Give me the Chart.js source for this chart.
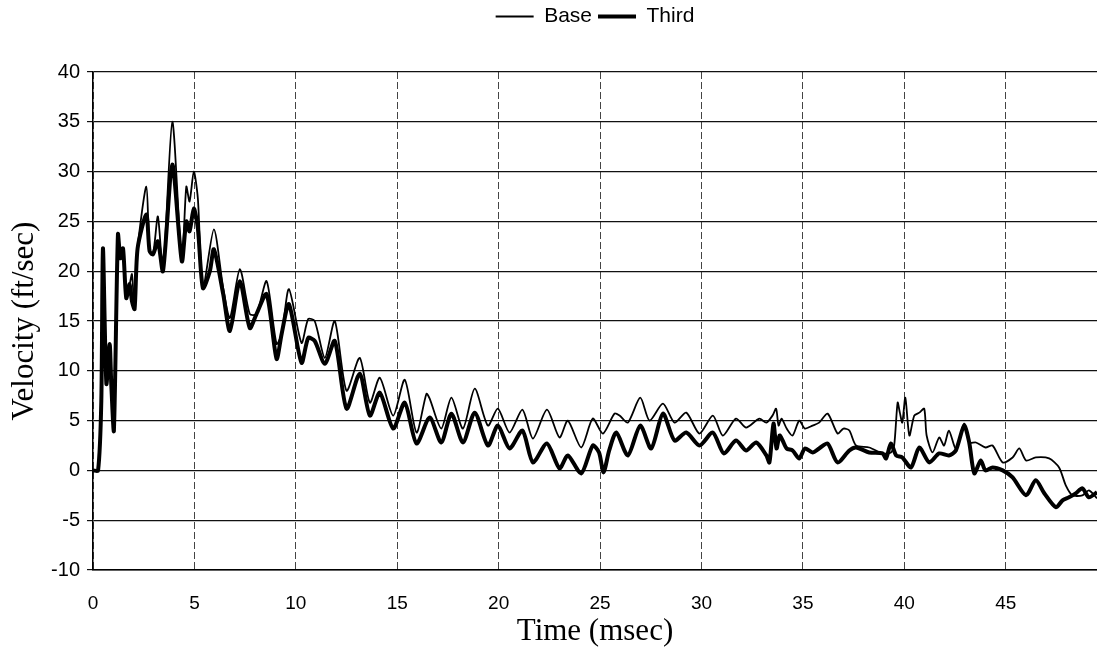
<!DOCTYPE html>
<html>
<head>
<meta charset="utf-8">
<script src="https://cdn.jsdelivr.net/npm/chart.js@4/dist/chart.umd.min.js"></script>
<style>
	body { margin:0; background:#fff; }
	#wrap { position:relative; width:1097px; height:652px; }
</style>
</head>
<body>
<div id="wrap"><canvas id="c"></canvas></div>
<script>
// values (time in msec, velocity in ft/sec)
const baseTime = [0, 0.25, 0.41, 0.49, 0.66, 0.82, 0.9, 1.03, 1.23, 1.35, 1.48, 1.64, 1.81, 1.92, 2.05, 2.2, 2.63, 2.79, 2.96, 3.2, 3.45, 3.91, 4.38, 4.6, 4.76, 4.97, 5.17, 5.42, 5.96, 6.42, 6.75, 7.24, 7.73, 8.06, 8.56, 9.05, 9.3, 9.66, 10.28, 10.61, 10.93, 11.43, 11.92, 12.5, 13.15, 13.65, 14.14, 14.8, 15.37, 15.95, 16.44, 16.6, 17.17, 17.67, 18.24, 18.82, 19.47, 19.96, 20.54, 21.17, 21.69, 22.38, 23.0, 23.41, 24.07, 24.64, 25.14, 25.71, 25.96, 26.37, 26.98, 27.44, 28.1, 28.67, 29.25, 29.9, 30.56, 31.05, 31.7, 32.2, 32.85, 33.2, 33.5, 33.68, 33.8, 33.95, 34.2, 34.49, 34.82, 35.1, 35.48, 35.8, 36.22, 36.71, 37.0, 37.29, 37.62, 38.27, 38.93, 39.34, 39.5, 39.67, 39.78, 39.9, 40.05, 40.25, 40.49, 40.74, 40.98, 41.1, 41.39, 41.72, 41.96, 42.2, 42.54, 42.95, 43.2, 43.53, 44.0, 44.35, 44.85, 45.34, 45.67, 46.0, 46.48, 47.14, 47.63, 47.96, 48.29, 48.78, 49.1, 49.5]
const baseVel = [0, 0, 7, 22.3, 8.7, 12.7, 8.7, 4, 23.7, 21.3, 22.3, 17.3, 18.7, 19.7, 16.2, 22.3, 28.5, 22, 21.7, 25.5, 20, 35, 21, 28.5, 27, 30, 27.3, 18.3, 24.2, 18.3, 15.3, 20.2, 15.7, 15.7, 19, 12.7, 13.7, 18.2, 12.8, 15.2, 15, 11.3, 15, 8, 11.3, 6.8, 9.3, 5.5, 9.1, 3.8, 7.7, 7.2, 4.2, 7.3, 4.2, 8.2, 4.5, 6.2, 3.8, 6.1, 3.2, 6.1, 3.3, 5, 2.3, 5.2, 3.7, 5.7, 5.5, 4.8, 7.3, 5, 6.7, 4.8, 5.8, 3.7, 5.5, 3.5, 5.2, 4.3, 5.2, 4.8, 5.5, 6.2, 4.5, 5.2, 4.2, 3.5, 5, 4.2, 4.5, 4.8, 5.7, 3.7, 4.2, 4, 2.5, 2.3, 1.7, 1.8, 2.5, 6.8, 5.8, 4.8, 7.3, 3.5, 5.5, 5.8, 6.2, 3.5, 1.8, 3.3, 2.5, 4, 2.2, 4.7, 2.8, 2.8, 2.3, 2.5, 0.8, 1.3, 2.2, 1, 1.3, 1.2, 0.3, -1.5, -2.5, -2.5, -2, -2.8]

const thirdTime = [0, 0.25, 0.41, 0.49, 0.66, 0.82, 0.9, 1.03, 1.23, 1.35, 1.48, 1.64, 1.81, 1.92, 2.05, 2.2, 2.63, 2.79, 2.96, 3.2, 3.45, 3.91, 4.38, 4.6, 4.76, 4.97, 5.17, 5.42, 5.76, 5.96, 6.42, 6.75, 7.24, 7.73, 8.06, 8.56, 9.05, 9.3, 9.66, 10.28, 10.61, 10.93, 11.43, 11.92, 12.5, 13.15, 13.65, 14.14, 14.8, 15.37, 15.95, 16.6, 17.17, 17.67, 18.24, 18.82, 19.47, 19.96, 20.54, 21.17, 21.69, 22.38, 23.0, 23.41, 24.07, 24.64, 24.95, 25.17, 25.45, 25.8, 26.37, 26.98, 27.52, 28.1, 28.67, 29.25, 29.9, 30.56, 31.1, 31.7, 32.2, 32.7, 33.2, 33.35, 33.55, 33.7, 33.85, 34.0, 34.2, 34.49, 34.82, 35.1, 35.48, 35.8, 36.22, 36.71, 37.29, 37.62, 38.27, 38.93, 39.1, 39.34, 39.6, 39.9, 40.33, 40.74, 41.23, 41.72, 42.2, 42.54, 42.95, 43.2, 43.45, 43.77, 44.0, 44.35, 44.85, 45.34, 46.0, 46.48, 46.9, 47.47, 47.8, 48.12, 48.45, 48.78, 49.1, 49.5]
const thirdVel = [0, 0, 7, 22.3, 8.7, 12.7, 8.7, 4, 23.7, 21.3, 22.3, 17.3, 18.7, 17, 16.2, 22.3, 25.7, 22, 21.7, 23, 20, 30.7, 21, 25, 24, 26.3, 24.3, 18.3, 20, 22.2, 17.7, 14, 19, 14.3, 15.7, 17.7, 11.2, 13.7, 16.7, 10.8, 13.3, 13, 10.7, 13, 6.2, 9.7, 5.5, 7.8, 4.2, 6.8, 2.7, 5.3, 2.8, 5.7, 2.8, 5.8, 2.5, 4.5, 2.2, 4, 0.8, 2.7, 0.2, 1.5, -0.3, 2.5, 1.8, -0.2, 2, 3.8, 1.5, 4.5, 2.2, 5.7, 3, 3.8, 2.5, 3.8, 1.7, 3, 2, 2.8, 1.5, 0.8, 4.7, 2.2, 3.5, 3, 2.2, 2, 1.2, 2.2, 1.8, 2.2, 2.7, 0.8, 2, 2.3, 1.8, 1.7, 1.2, 2.7, 1.5, 1.3, 0.3, 2.3, 0.8, 1.7, 1.5, 2, 4.5, 2.8, -0.3, 1, 0, 0.3, 0, -0.7, -2.5, -1, -2.3, -3.7, -3, -2.7, -2.3, -1.8, -2.7, -2.2]

const xTicks = [0, 5, 10, 15, 20, 25, 30, 35, 40, 45]
const seriesNames = ['Base', 'Third']

const pts = (t, v) => t.map((x, i) => ({x:x, y:v[i]}))

addEventListener('load', () => {

	const sans = "'Liberation Sans', Arial, sans-serif"
	const serif = "'Liberation Serif', 'Times New Roman', serif"

	// legend sits above a fixed gap, plot starts at y=72
	const legendGap = {
		id: 'legendGap',
		beforeInit: c => {
			const f = c.legend.fit
			c.legend.fit = function () { f.call(this); this.height = 72 }
		}
	}

	new Chart(document.getElementById('c'), {
		type: 'line',
		plugins: [legendGap],
		data: {
			datasets: [
				{label: seriesNames[0], data: pts(baseTime, baseVel), borderColor: '#000', backgroundColor: '#000', borderWidth: 1.8, pointRadius: 0, tension: 0.25, fill: false},
				{label: seriesNames[1], data: pts(thirdTime, thirdVel), borderColor: '#000', backgroundColor: '#000', borderWidth: 4, pointRadius: 0, tension: 0.25, fill: false}
			]
		},
		options: {
			responsive: true,
			maintainAspectRatio: false,
			animation: false,
			layout: { padding: {left: 0, right: 0, top: 0, bottom: 0} },
			plugins: {
				tooltip: { enabled: false },
				legend: {
					position: 'top',
					fullSize: false,
					labels: {
						usePointStyle: true,
						pointStyle: 'line',
						pointStyleWidth: 38,
						padding: 6,
						color: '#000',
						font: { family: sans, size: 21 }
					}
				}
			},
			scales: {
				x: {
					type: 'linear',
					min: 0,
					max: 49.5,
					afterBuildTicks: s => { s.ticks = xTicks.map(v => ({value: v})) },
					afterFit: s => { s.height = 82 },
					ticks: {
						autoSkip: false,
						maxRotation: 0,
						padding: 22,
						color: '#000',
						font: { family: sans, size: 19 }
					},
					grid: { color: '#444', lineWidth: 1, drawTicks: false },
					border: { color: '#000', width: 1.5, dash: [7, 3] },
					title: {
						display: true,
						text: 'Time (msec)',
						color: '#000',
						font: { family: serif, size: 31 },
						padding: {top: 0, bottom: 2}
					}
				},
				y: {
					min: -10,
					max: 40,
					afterFit: s => { s.width = 93 },
					ticks: {
						stepSize: 5,
						padding: 7,
						color: '#000',
						font: { family: sans, size: 20 }
					},
					grid: { color: '#111', lineWidth: 1.2, tickLength: 6 },
					border: { color: '#000', width: 1.5 },
					title: {
						display: true,
						text: 'Velocity (ft/sec)',
						color: '#000',
						font: { family: serif, size: 31 },
						padding: {top: 6, bottom: 0}
					}
				}
			}
		}
	})
})
</script>
</body>
</html>
